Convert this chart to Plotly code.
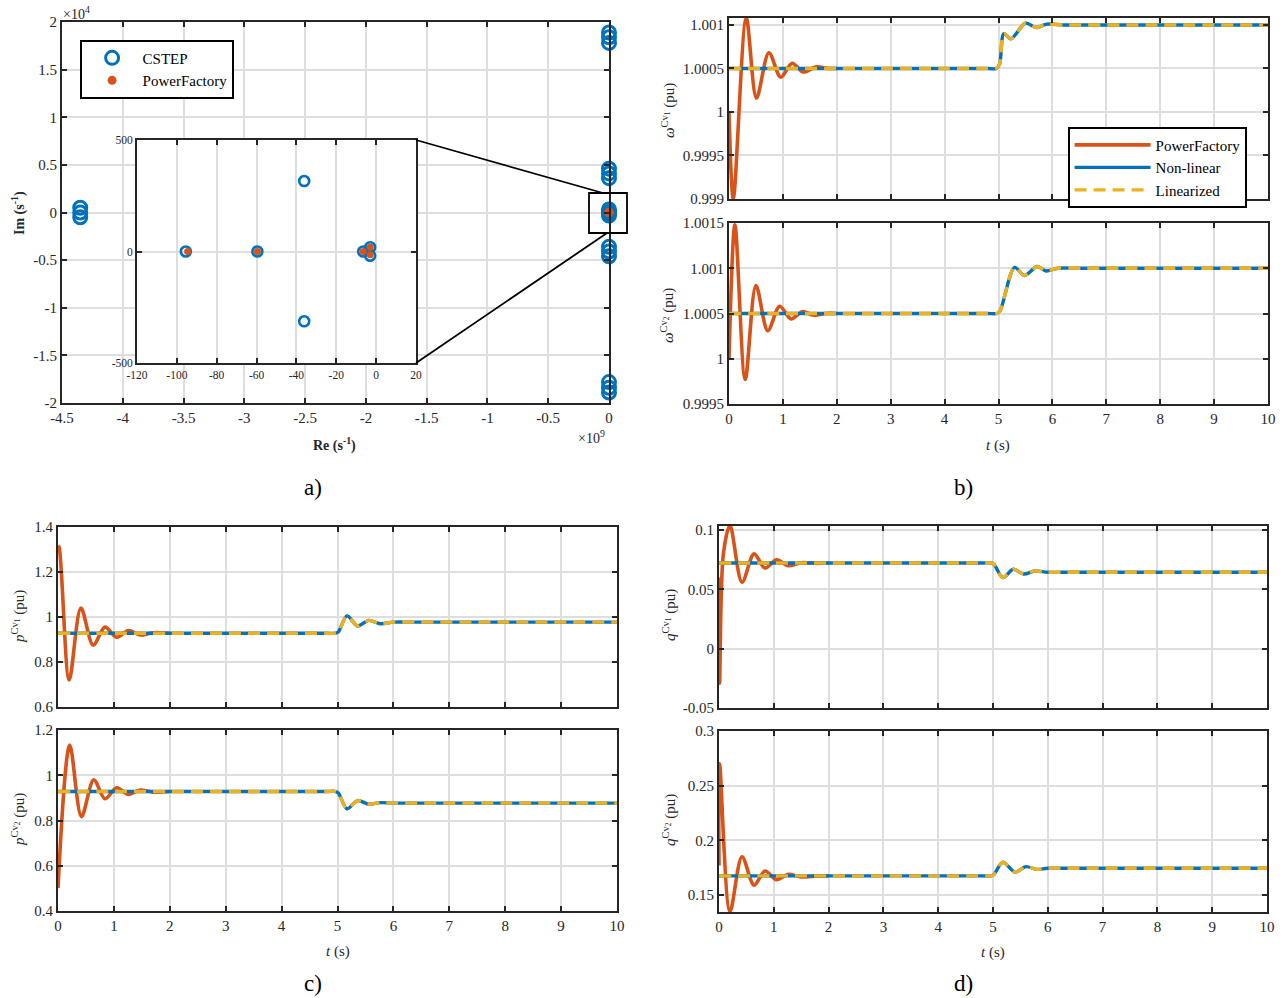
import plotly.graph_objects as go

# ---------------- data ----------------
# a) eigenvalues (Re in s^-1, Im in s^-1)
cstep_re = [-4.35e9, -4.35e9, -4.35e9,
            -50, -50, -50, -50, -50, -50,
            -50, -50, -50, -50, -50, -50,
            -95.5, -59.6, -36.1, -36.1, -6.5, -3.0, -3.0]
cstep_im = [500, 0, -500,
            18900, 18400, 17800, -17800, -18400, -18900,
            4600, 4100, 3600, -3600, -4100, -4600,
            0, 0, 316, -313, 0, 19, -19]
pf_re = [-94.6, -59.6, -6.5, -3.0, -3.0]
pf_im = [0, 0, 0, 19, -15]

# b) rotor speed (pu)
t_pf_b1 = [0, 0.08, 0.32, 0.51, 0.74, 0.96, 1.17, 1.38, 1.62, 1.85, 2.0]
w1_pf = [1.0, 0.999, 1.00108, 1.00016, 1.00068, 1.0004, 1.00056, 1.00046, 1.00052, 1.0005, 1.0005]
t_nl_b1 = [0, 1, 2, 3, 4, 4.8, 4.96, 5.02, 5.1, 5.23, 5.5, 5.7, 5.9, 6.2, 6.6, 8, 10]
w1_nl = [1.0005, 1.0005, 1.0005, 1.0005, 1.0005, 1.0005, 1.0005, 1.00055, 1.0009, 1.00084,
         1.00102, 1.00097, 1.00101, 1.001, 1.001, 1.001, 1.001]
w1_lin = [1.0005, 1.0005, 1.0005, 1.0005, 1.0005, 1.0005, 1.0005, 1.00055, 1.0009, 1.00084,
          1.00102, 1.00097, 1.00101, 1.001, 1.001, 1.001, 1.001]

t_pf_b2 = [0, 0.11, 0.3, 0.5, 0.72, 0.94, 1.15, 1.36, 1.58, 1.8, 2.0]
w2_pf = [1.0, 1.00148, 0.99977, 1.00081, 1.00031, 1.00058, 1.00044, 1.00052, 1.00048, 1.0005, 1.0005]
t_nl_b2 = [0, 1, 2, 3, 4, 4.8, 4.97, 5.03, 5.3, 5.48, 5.72, 5.88, 6.1, 6.5, 8, 10]
w2_nl = [1.0005, 1.0005, 1.0005, 1.0005, 1.0005, 1.0005, 1.0005, 1.00053, 1.00101, 1.00092,
         1.00102, 1.00097, 1.001, 1.001, 1.001, 1.001]
w2_lin = [1.0005, 1.0005, 1.0005, 1.0005, 1.0005, 1.0005, 1.0005, 1.00053, 1.00101, 1.00092,
          1.00102, 1.00097, 1.001, 1.001, 1.001, 1.001]

# c) active power (pu)
t_pf_c1 = [0, 0.02, 0.2, 0.41, 0.63, 0.84, 1.05, 1.26, 1.47, 1.7, 2.0]
p1_pf = [1.316, 1.31, 0.72, 1.04, 0.875, 0.955, 0.91, 0.94, 0.92, 0.93, 0.928]
t_nl_c1 = [0, 1, 2, 3, 4, 4.8, 4.97, 5.02, 5.17, 5.36, 5.56, 5.76, 6.0, 6.4, 8, 10]
p1_nl = [0.928, 0.928, 0.928, 0.928, 0.928, 0.928, 0.928, 0.935, 1.005, 0.96, 0.985, 0.97,
         0.977, 0.977, 0.977, 0.977]
p1_lin = [0.928, 0.928, 0.928, 0.928, 0.928, 0.928, 0.928, 0.935, 1.005, 0.96, 0.985, 0.97,
          0.977, 0.977, 0.977, 0.977]

t_pf_c2 = [0, 0.21, 0.42, 0.64, 0.84, 1.05, 1.26, 1.47, 1.7, 2.0]
p2_pf = [0.502, 1.133, 0.817, 0.98, 0.896, 0.945, 0.915, 0.935, 0.925, 0.928]
t_nl_c2 = [0, 1, 2, 3, 4, 4.8, 4.97, 5.02, 5.17, 5.36, 5.56, 5.76, 6.0, 6.4, 8, 10]
p2_nl = [0.928, 0.928, 0.928, 0.928, 0.928, 0.928, 0.928, 0.92, 0.852, 0.888, 0.872, 0.879,
         0.877, 0.877, 0.877, 0.877]
p2_lin = [0.928, 0.928, 0.928, 0.928, 0.928, 0.928, 0.928, 0.92, 0.852, 0.888, 0.872, 0.879,
          0.877, 0.877, 0.877, 0.877]

# d) reactive power (pu)
t_pf_d1 = [0, 0.01, 0.08, 0.2, 0.42, 0.64, 0.84, 1.05, 1.26, 1.5, 1.8, 2.0]
q1_pf = [0.06, -0.029, 0.08, 0.104, 0.056, 0.08, 0.068, 0.075, 0.070, 0.0725, 0.072, 0.0723]
t_nl_d1 = [0, 1, 2, 3, 4, 4.8, 4.97, 5.02, 5.18, 5.37, 5.56, 5.76, 6.0, 6.4, 8, 10]
q1_nl = [0.0723, 0.0723, 0.0723, 0.0723, 0.0723, 0.0723, 0.0723, 0.071, 0.06, 0.067, 0.063,
         0.0655, 0.0645, 0.0645, 0.0645, 0.0645]
q1_lin = [0.0723, 0.0723, 0.0723, 0.0723, 0.0723, 0.0723, 0.0723, 0.071, 0.06, 0.067, 0.063,
          0.0655, 0.0645, 0.0645, 0.0645, 0.0645]

t_pf_d2 = [0, 0.01, 0.2, 0.42, 0.64, 0.84, 1.05, 1.26, 1.5, 1.8, 2.0]
q2_pf = [0.177, 0.27, 0.1348, 0.185, 0.159, 0.172, 0.164, 0.169, 0.1665, 0.1675, 0.1675]
t_nl_d2 = [0, 1, 2, 3, 4, 4.8, 4.97, 5.02, 5.18, 5.4, 5.6, 5.8, 6.0, 6.4, 8, 10]
q2_nl = [0.1675, 0.1675, 0.1675, 0.1675, 0.1675, 0.1675, 0.1675, 0.169, 0.18, 0.171, 0.176,
         0.1735, 0.1745, 0.1745, 0.1745, 0.1745]
q2_lin = [0.1675, 0.1675, 0.1675, 0.1675, 0.1675, 0.1675, 0.1675, 0.169, 0.18, 0.171, 0.176,
          0.1735, 0.1745, 0.1745, 0.1745, 0.1745]

t_ticks = [0, 1, 2, 3, 4, 5, 6, 7, 8, 9, 10]

# ---------------- style ----------------
W, H = 1283, 998
FONT = "Liberation Serif, Times New Roman, serif"
ORANGE = "#D95319"
BLUE = "#0072BD"
YELLOW = "#EDB120"
GRID = "#DEDEDE"
AX = "#262626"


def dx(x0, x1):
    return [x0 / W, x1 / W]


def dy(y0, y1):
    return [1 - y1 / H, 1 - y0 / H]


def fmt(v):
    return ("%g" % v)


def axis(dom, rng, vals, anchor, labels=True, size=15, texts=None):
    return dict(domain=dom, range=rng, tickmode="array", tickvals=vals,
                ticktext=texts if texts is not None else [fmt(v) for v in vals],
                showticklabels=labels, anchor=anchor, showline=True, automargin=False,
                linecolor=AX, linewidth=1.8, mirror="ticks", ticks="inside",
                ticklen=5, tickwidth=1.5, tickcolor=AX, showgrid=True,
                gridcolor=GRID, gridwidth=1.6, zeroline=False,
                tickfont=dict(family=FONT, size=size, color=AX), fixedrange=True)


fig = go.Figure()

# ---------- panel a ----------
fig.add_trace(go.Scatter(x=[r / 1e9 for r in cstep_re], y=[i / 1e4 for i in cstep_im],
                         mode="markers", name="CSTEP", xaxis="x", yaxis="y",
                         cliponaxis=False, legend="legend",
                         marker=dict(symbol="circle-open", size=13, color=BLUE,
                                     line=dict(width=3, color=BLUE))))
fig.add_trace(go.Scatter(x=[r / 1e9 for r in pf_re], y=[i / 1e4 for i in pf_im],
                         mode="markers", name="PowerFactory", xaxis="x", yaxis="y",
                         cliponaxis=False, legend="legend",
                         marker=dict(symbol="circle", size=9, color=ORANGE)))
# inset
fig.add_trace(go.Scatter(x=cstep_re, y=cstep_im, mode="markers", showlegend=False,
                         xaxis="x2", yaxis="y2",
                         marker=dict(symbol="circle-open", size=10, color=BLUE,
                                     line=dict(width=2.6, color=BLUE))))
fig.add_trace(go.Scatter(x=pf_re, y=pf_im, mode="markers", showlegend=False,
                         xaxis="x2", yaxis="y2",
                         marker=dict(symbol="circle", size=7, color=ORANGE)))

# ---------- time-domain panels ----------
series = [
    ("3", t_pf_b1, w1_pf, t_nl_b1, w1_nl, w1_lin, True),
    ("4", t_pf_b2, w2_pf, t_nl_b2, w2_nl, w2_lin, False),
    ("5", t_pf_c1, p1_pf, t_nl_c1, p1_nl, p1_lin, False),
    ("6", t_pf_c2, p2_pf, t_nl_c2, p2_nl, p2_lin, False),
    ("7", t_pf_d1, q1_pf, t_nl_d1, q1_nl, q1_lin, False),
    ("8", t_pf_d2, q2_pf, t_nl_d2, q2_nl, q2_lin, False),
]
for k, tp, yp, tn, yn, yl, leg in series:
    fig.add_trace(go.Scatter(x=tp, y=yp, mode="lines", name="PowerFactory",
                             xaxis="x" + k, yaxis="y" + k, showlegend=leg, legend="legend2",
                             line=dict(color=ORANGE, width=3.6, shape="spline", smoothing=0.9)))
    fig.add_trace(go.Scatter(x=tn, y=yn, mode="lines", name="Non-linear",
                             xaxis="x" + k, yaxis="y" + k, showlegend=leg, legend="legend2",
                             line=dict(color=BLUE, width=3.4, shape="spline", smoothing=0.9)))
    fig.add_trace(go.Scatter(x=tn, y=yl, mode="lines", name="Linearized",
                             xaxis="x" + k, yaxis="y" + k, showlegend=leg, legend="legend2",
                             line=dict(color=YELLOW, width=3.4, dash="12px,7px",
                                       shape="spline", smoothing=0.9)))

layout = dict(width=W, height=H, margin=dict(l=0, r=0, t=0, b=0, autoexpand=False),
              paper_bgcolor="white", plot_bgcolor="white",
              font=dict(family=FONT, color=AX))

# panel a axes
layout["xaxis"] = axis(dx(62, 609), [-4.5, 0], [-4.5, -4, -3.5, -3, -2.5, -2, -1.5, -1, -0.5, 0], "y")
layout["yaxis"] = axis(dy(22, 403), [-2, 2], [-2, -1.5, -1, -0.5, 0, 0.5, 1, 1.5, 2], "x")
layout["xaxis2"] = axis(dx(137, 416), [-120, 20], [-120, -100, -80, -60, -40, -20, 0, 20], "y2", size=11.5)
layout["yaxis2"] = axis(dy(140, 363), [-500, 500], [-500, 0, 500], "x2", size=11.5)

# b, c, d axes
layout["xaxis3"] = axis(dx(729, 1268), [0, 10], t_ticks, "y3", labels=False)
layout["yaxis3"] = axis(dy(18, 199), [0.999, 1.00108], [0.999, 0.9995, 1, 1.0005, 1.001], "x3",
                        texts=["0.999", "0.9995", "1", "1.0005", "1.001"])
layout["xaxis4"] = axis(dx(729, 1268), [0, 10], t_ticks, "y4")
layout["yaxis4"] = axis(dy(223, 404), [0.9995, 1.0015], [0.9995, 1, 1.0005, 1.001, 1.0015], "x4",
                        texts=["0.9995", "1", "1.0005", "1.001", "1.0015"])
layout["xaxis5"] = axis(dx(58, 617), [0, 10], t_ticks, "y5", labels=False)
layout["yaxis5"] = axis(dy(527, 707), [0.6, 1.4], [0.6, 0.8, 1, 1.2, 1.4], "x5")
layout["xaxis6"] = axis(dx(58, 617), [0, 10], t_ticks, "y6")
layout["yaxis6"] = axis(dy(730, 911), [0.4, 1.2], [0.4, 0.6, 0.8, 1, 1.2], "x6")
layout["xaxis7"] = axis(dx(719, 1267), [0, 10], t_ticks, "y7", labels=False)
layout["yaxis7"] = axis(dy(526, 708), [-0.05, 0.1035], [-0.05, 0, 0.05, 0.1], "x7",
                        texts=["-0.05", "0", "0.05", "0.1"])
layout["xaxis8"] = axis(dx(719, 1267), [0, 10], t_ticks, "y8")
layout["yaxis8"] = axis(dy(731, 912), [0.1345, 0.3], [0.15, 0.2, 0.25, 0.3], "x8")

layout["legend"] = dict(x=80 / W, y=1 - 40 / H, xanchor="left", yanchor="top",
                        bgcolor="white", bordercolor="#000000", borderwidth=1.6,
                        font=dict(family=FONT, size=15, color="#000000"),
                        itemwidth=51, tracegroupgap=0)
layout["legend2"] = dict(x=1068 / W, y=1 - 127 / H, xanchor="left", yanchor="top",
                         bgcolor="white", bordercolor="#000000", borderwidth=1.6,
                         font=dict(family=FONT, size=15, color="#000000"),
                         itemwidth=76, tracegroupgap=0)

# zoom box and connector lines (panel a)
layout["shapes"] = [
    dict(type="rect", xref="paper", yref="paper", x0=589 / W, x1=627 / W,
         y0=1 - 233 / H, y1=1 - 193 / H, line=dict(color="#000000", width=1.8), layer="above"),
    dict(type="line", xref="paper", yref="paper", x0=416 / W, y0=1 - 140 / H,
         x1=603 / W, y1=1 - 193 / H, line=dict(color="#000000", width=1.8), layer="above"),
    dict(type="line", xref="paper", yref="paper", x0=416 / W, y0=1 - 363 / H,
         x1=607 / W, y1=1 - 233 / H, line=dict(color="#000000", width=1.8), layer="above"),
]

ann = []


def text(x, y, s, size=15, angle=0, xanchor="center", color=AX):
    ann.append(dict(x=x / W, y=1 - y / H, xref="paper", yref="paper", text=s,
                    showarrow=False, textangle=angle, xanchor=xanchor, yanchor="middle",
                    font=dict(family=FONT, size=size, color=color)))


text(18, 213, "<b>Im (s<sup>-1</sup>)</b>", size=14, angle=-90)
text(334, 444, "<b>Re (s<sup>-1</sup>)</b>", size=14)
text(61, 13, "\u00d710<sup>4</sup>", size=14, xanchor="left")
text(576, 437, "\u00d710<sup>9</sup>", size=14, xanchor="left")
text(668, 111, "<i>\u03c9</i><sup>Cv<sub>1</sub></sup> (pu)", angle=-90)
text(667, 316, "<i>\u03c9</i><sup>Cv<sub>2</sub></sup> (pu)", angle=-90)
text(18, 617, "<i>p</i><sup>Cv<sub>1</sub></sup> (pu)", angle=-90)
text(18, 820, "<i>p</i><sup>Cv<sub>2</sub></sup> (pu)", angle=-90)
text(669, 615, "<i>q</i><sup>Cv<sub>1</sub></sup> (pu)", angle=-90)
text(669, 820, "<i>q</i><sup>Cv<sub>2</sub></sup> (pu)", angle=-90)
text(998, 445, "<i>t</i> (s)")
text(338, 951, "<i>t</i> (s)")
text(993, 952, "<i>t</i> (s)")
text(313, 487, "a)", size=23, color="#000000")
text(963, 487, "b)", size=23, color="#000000")
text(313, 983, "c)", size=23, color="#000000")
text(963, 983, "d)", size=23, color="#000000")
layout["annotations"] = ann

fig.update_layout(**layout)
fig.write_html("out.html")
